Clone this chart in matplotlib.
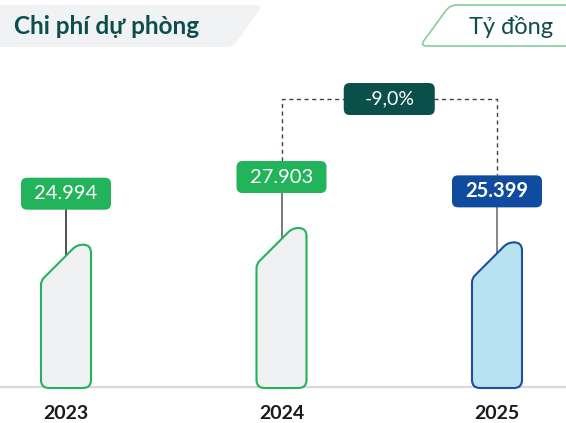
import matplotlib
matplotlib.use('Agg')
import matplotlib.pyplot as plt
from matplotlib.path import Path
from matplotlib.patches import PathPatch
import numpy as np

# ---- data ----
years = ['2023', '2024', '2025']
values = [24994, 27903, 25399]
value_labels = ['24.994', '27.903', '25.399']
change_label = '-9,0%'
title = 'Chi phí dự phòng'
unit = 'Tỷ đồng'

# ---- style ----
FONT = ['Lato', 'DejaVu Sans']
plt.rcParams['font.family'] = FONT
GREEN = '#22b35b'
BAR_FILL = '#f0f1f3'
BLUE = '#0f4c9f'
BLUE_FILL = '#b9e2f0'
BLUE_EDGE = '#1b4f9d'
TEAL = '#0b4f4a'
TITLE_C = '#0d4d4d'

W, H = 566, 423
fig = plt.figure(figsize=(W / 100, H / 100), dpi=100)
ax = fig.add_axes([0, 0, 1, 1])
ax.axis('off')
STEP_PX = 215.5
VAL_PER_PX = 174.4
FIRST_PX = 66
BASE_PX = 388  # from top
ax.set_xlim(-FIRST_PX / STEP_PX, (W - FIRST_PX) / STEP_PX)
ax.set_ylim(-(H - BASE_PX) * VAL_PER_PX, BASE_PX * VAL_PER_PX)
ax.set_autoscale_on(False)

inv = ax.transData.inverted()


def rounded_path(pts, radii):
    pts = [np.array(p, float) for p in pts]
    n = len(pts)
    verts, codes = [], []
    for i in range(n):
        p0, p1, p2 = pts[i - 1], pts[i], pts[(i + 1) % n]
        r = radii[i]
        d0 = (p0 - p1) / np.linalg.norm(p0 - p1)
        d2 = (p2 - p1) / np.linalg.norm(p2 - p1)
        a = p1 + d0 * r
        b = p1 + d2 * r
        if i == 0:
            verts.append(a); codes.append(Path.MOVETO)
        else:
            verts.append(a); codes.append(Path.LINETO)
        verts += [p1, b]; codes += [Path.CURVE3, Path.CURVE3]
    verts.append(verts[0]); codes.append(Path.CLOSEPOLY)
    return np.array(verts), codes


def add_shape(pts, radii, trans_to_data=True, **kw):
    v, c = rounded_path(pts, radii)
    if trans_to_data:
        v = inv.transform(v)
        p = PathPatch(Path(v, c), **kw)
        ax.add_patch(p)
    else:
        v = v / np.array([W, H])
        p = PathPatch(Path(v, c), transform=fig.transFigure, **kw)
        fig.add_artist(p)
    return p


def to_disp(x, y):
    return ax.transData.transform((x, y))


# baseline (slightly above zero level, under the bars)
_, base_disp = to_disp(0, 0)
base_val = inv.transform((0, base_disp + 1.5))[1]
ax.axhline(base_val, color='#d9d9d9', lw=1.6, zorder=1)

styles = [
    dict(fill=BAR_FILL, edge=GREEN, box=GREEN, weight='normal', line='#222222'),
    dict(fill=BAR_FILL, edge=GREEN, box=GREEN, weight='normal', line='#555555'),
    dict(fill=BLUE_FILL, edge=BLUE_EDGE, box=BLUE, weight='bold', line='#666666'),
]

HALF = 25
CH = 36
box_tops = []
for i, (v, lab, st) in enumerate(zip(values, value_labels, styles)):
    X, B = to_disp(i, 0)
    _, T = to_disp(i, v)
    pts = [(X - HALF, B), (X + HALF, B), (X + HALF, T), (X - HALF + CH, T), (X - HALF, T - CH)]
    add_shape(pts, [8, 8, 8, 6, 4], facecolor=st['fill'], edgecolor=st['edge'],
              lw=1.5, zorder=3)
    # label box
    bw, bh = 90, 32
    bb = T + 35
    add_shape([(X - bw / 2, bb), (X + bw / 2, bb), (X + bw / 2, bb + bh), (X - bw / 2, bb + bh)],
              [6, 6, 6, 6], facecolor=st['box'], edgecolor='none', zorder=4)
    cx, cy = inv.transform((X, bb + bh / 2))
    ax.text(cx, cy, lab, ha='center', va='center', color='white', fontsize=14.5,
            fontweight=st['weight'], zorder=5)
    # connector
    l0 = inv.transform((X, bb))
    l1 = inv.transform((X, T - 14))
    ax.plot([l0[0], l1[0]], [l0[1], l1[1]], color=st['line'], lw=1.1, zorder=2)
    box_tops.append((X, bb + bh))
    # year label
    tx, ty = inv.transform((X, 10))
    ax.text(tx, ty, years[i], ha='center', va='center', fontsize=14, fontweight='bold',
            color='#1a1a1a')

# dashed change connector between 2024 and 2025
(xa, ya), (xb, yb) = box_tops[1], box_tops[2]
yd = max(ya, yb) + 62
path_pts = inv.transform([(xa, ya), (xa, yd), (xb, yd), (xb, yb)])
ax.plot(path_pts[:, 0], path_pts[:, 1], color='#444444', lw=1.0, ls=(0, (3, 2.5)), zorder=2)
mx = (xa + xb) / 2
cw, chh = 91, 32
add_shape([(mx - cw / 2, yd - chh / 2), (mx + cw / 2, yd - chh / 2),
           (mx + cw / 2, yd + chh / 2), (mx - cw / 2, yd + chh / 2)],
          [6, 6, 6, 6], facecolor=TEAL, edgecolor='none', zorder=4)
c = inv.transform((mx, yd))
ax.text(c[0], c[1], change_label, ha='center', va='center', color='white', fontsize=14,
        zorder=5)

# header: title background
add_shape([(-20, H - 5), (263, H - 5), (233, H - 47), (-20, H - 47)], [0, 7, 7, 0],
          trans_to_data=False, facecolor='#f0f2f4', edgecolor='none', zorder=0)
fig.text(14 / W, 1 - 27 / H, title, ha='left', va='center', fontsize=17.5,
         fontweight='bold', color=TITLE_C)

# unit box
add_shape([(450, H - 5), (575, H - 5), (575, H - 46), (420, H - 46)], [7, 0, 0, 7],
          trans_to_data=False, facecolor='white', edgecolor='#80d09c', lw=1.2, zorder=0)
fig.text(511 / W, 1 - 27 / H, unit, ha='center', va='center', fontsize=17,
         color=TITLE_C)

fig.savefig('out.png', dpi=100)
